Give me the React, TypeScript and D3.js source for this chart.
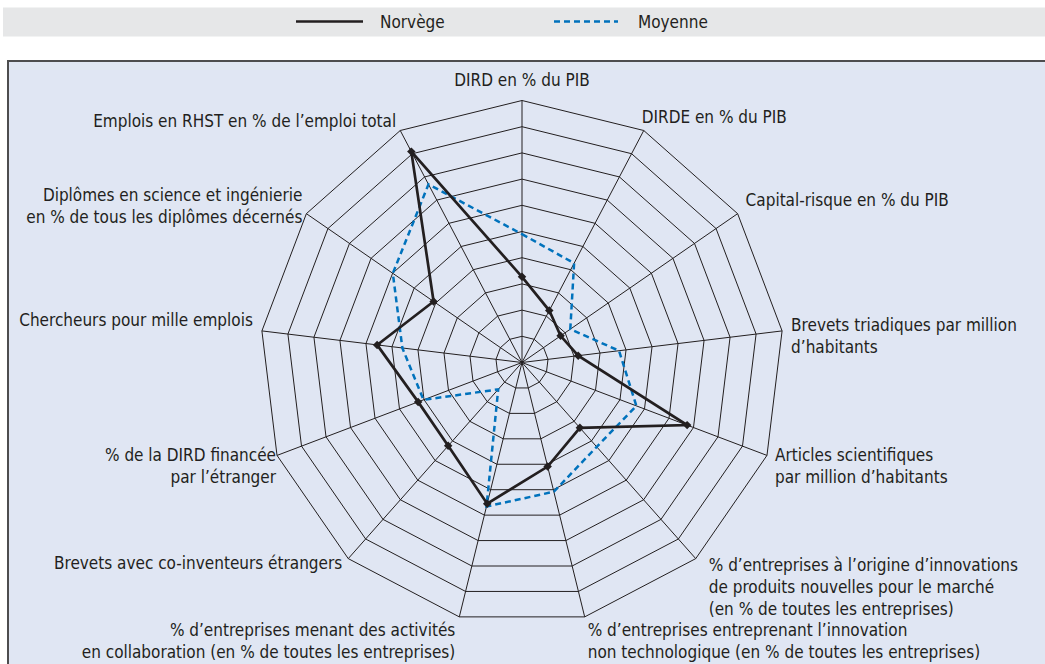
import React from "react";
import * as d3 from "d3";

const axes: string[][] = [
  ["DIRD en % du PIB"],
  ["DIRDE en % du PIB"],
  ["Capital-risque en % du PIB"],
  ["Brevets triadiques par million", "d’habitants"],
  ["Articles scientifiques", "par million d’habitants"],
  ["% d’entreprises à l’origine d’innovations", "de produits nouvelles pour le marché", "(en % de toutes les entreprises)"],
  ["% d’entreprises entreprenant l’innovation", "non technologique (en % de toutes les entreprises)"],
  ["% d’entreprises menant des activités", "en collaboration (en % de toutes les entreprises)"],
  ["Brevets avec co-inventeurs étrangers"],
  ["% de la DIRD financée", "par l’étranger"],
  ["Chercheurs pour mille emplois"],
  ["Diplômes en science et ingénierie", "en % de tous les diplômes décernés"],
  ["Emplois en RHST en % de l’emploi total"],
];

const norvege = [3.27, 2.24, 1.79, 2.16, 6.74, 3.33, 4.09, 5.55, 4.25, 4.24, 5.57, 4.1, 9.09];
const moyenne = [4.9, 4.28, 2.24, 3.73, 4.67, 4.3, 5.08, 5.66, 1.37, 4.02, 4.6, 5.99, 7.68];
const seriesNames = ["Norvège", "Moyenne"];
const ringCount = 10;

// label layout: anchor, dx, dy (first line centre, relative to outer vertex)
const labelLayout: [string, number, number][] = [
  ["middle", 0, -21],
  ["start", -2, -14],
  ["start", 8, -14],
  ["start", 9, -6],
  ["start", 8, 0],
  ["start", 13, 6.5],
  ["start", 3, 13.5],
  ["end", -4, 13.5],
  ["end", -6, 4.5],
  ["end", -1, 0],
  ["end", -9, -11],
  ["end", -4, -19],
  ["end", -4, -10],
];

const W = 1045;
const H = 664;
const cx = 522;
const cy = 362.5;
const R = 262;
const FONT = "'DejaVu Sans Condensed', 'Liberation Sans Narrow', sans-serif";
const FS = 17;
const INK = "#231f20";
const BLUE = "#0072bc";

export default function App() {
  const n = axes.length;
  const angle = d3.scaleLinear().domain([0, n]).range([0, 2 * Math.PI]);
  const r = d3.scaleLinear().domain([0, ringCount]).range([0, R]);
  const pt = (i: number, v: number): [number, number] => {
    const a = angle(i);
    return [cx + r(v) * Math.sin(a), cy - r(v) * Math.cos(a)];
  };
  const idx = d3.range(n);
  const ringPath = (v: number) => d3.line()(idx.map((i) => pt(i, v))) + "Z";
  const seriesPath = (vals: number[]) => d3.line()(vals.map((v, i) => pt(i, v))) + "Z";

  return (
    <svg width={W} height={H} style={{ position: "absolute", left: 0, top: 0 }} fontFamily={FONT}>
      <rect x={0} y={0} width={W} height={H} fill="#ffffff" />
      {/* legend band */}
      <rect x={3} y={7.5} width={W} height={29} fill="#e6e7e8" />
      <line x1={296} x2={363} y1={21.5} y2={21.5} stroke={INK} strokeWidth={2.5} />
      <text x={380} y={27.5} fontSize={FS} fill={INK}>{seriesNames[0]}</text>
      <line x1={554} x2={618} y1={21.5} y2={21.5} stroke={BLUE} strokeWidth={2.5} strokeDasharray="6,4" />
      <text x={638} y={27.5} fontSize={FS} fill={INK}>{seriesNames[1]}</text>

      {/* panel */}
      <rect x={8} y={61} width={W + 20} height={H} fill="#e0e6f3" stroke="#4d4d4f" strokeWidth={2} />

      {/* grid */}
      {d3.range(1, ringCount + 1).map((k) => (
        <path key={k} d={ringPath(k)} fill="none" stroke={INK} strokeWidth={1} />
      ))}
      {idx.map((i) => {
        const [x, y] = pt(i, ringCount);
        return <line key={i} x1={cx} y1={cy} x2={x} y2={y} stroke={INK} strokeWidth={1} />;
      })}

      {/* series */}
      <path d={seriesPath(moyenne)} fill="none" stroke={BLUE} strokeWidth={2.5} strokeDasharray="6,4" />
      <path d={seriesPath(norvege)} fill="none" stroke={INK} strokeWidth={2.7} strokeLinejoin="miter" />
      {norvege.map((v, i) => {
        const [x, y] = pt(i, v);
        return <rect key={i} x={-3} y={-3} width={6} height={6} fill={INK} transform={`translate(${x},${y}) rotate(45)`} />;
      })}

      {/* labels */}
      {axes.map((lines, i) => {
        const [x, y] = pt(i, ringCount);
        const [anchor, dx, dy] = labelLayout[i];
        return (
          <text key={i} x={x + dx} y={y + dy} textAnchor={anchor as any} fontSize={FS} fill={INK}>
            {lines.map((l, j) => (
              <tspan key={j} x={x + dx} dy={j === 0 ? 6 : 22}>{l}</tspan>
            ))}
          </text>
        );
      })}
    </svg>
  );
}
